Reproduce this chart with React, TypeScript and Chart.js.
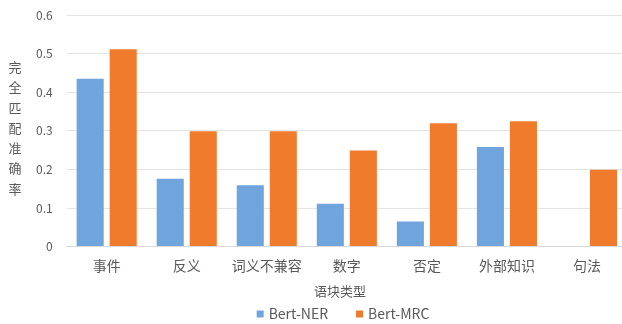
import React, { useEffect, useRef } from "react";
import { Chart, registerables } from "chart.js";

Chart.register(...registerables);

const categories = ["事件", "反义", "词义不兼容", "数字", "否定", "外部知识", "句法"];
const seriesNames = ["Bert-NER", "Bert-MRC"];
const bertNer = [0.435, 0.176, 0.159, 0.111, 0.065, 0.258, 0];
const bertMrc = [0.512, 0.299, 0.299, 0.249, 0.32, 0.325, 0.199];
const yTicks = [0, 0.1, 0.2, 0.3, 0.4, 0.5, 0.6];
const yTitle = "完全匹配准确率";
const xTitle = "语块类型";

const FONT = "'Noto Sans CJK SC', 'Noto Sans', sans-serif";
const TEXT = "#595959";
const COLORS = ["#6fa5dc", "#f07b2c"];
const FOOTER_CENTER = 340;

// Stacked, upright y-axis title on the left edge
const verticalTitle = {
  id: "verticalTitle",
  afterDraw(chart: Chart) {
    const { ctx, chartArea } = chart;
    const chars = Array.from(yTitle);
    const step = 20.3;
    const mid = (chartArea.top + chartArea.bottom) / 2 - 3;
    const start = mid - ((chars.length - 1) * step) / 2;
    ctx.save();
    ctx.fillStyle = TEXT;
    ctx.font = `13px ${FONT}`;
    ctx.textAlign = "center";
    ctx.textBaseline = "middle";
    chars.forEach((c, i) => ctx.fillText(c, 15, start + i * step));
    ctx.restore();
  },
};

// x-axis title and legend row, centred on the visible page width
const footer = {
  id: "footer",
  afterDraw(chart: Chart) {
    const { ctx } = chart;
    ctx.save();
    ctx.fillStyle = TEXT;
    ctx.font = `13px ${FONT}`;
    ctx.textAlign = "center";
    ctx.textBaseline = "middle";
    ctx.fillText(xTitle, FOOTER_CENTER, chart.height - 33);

    const y = chart.height - 10;
    const box = 7;
    const gap = 5;
    const spacing = 28;
    ctx.font = `14px ${FONT}`;
    ctx.textAlign = "left";
    const widths = seriesNames.map((n) => box + gap + ctx.measureText(n).width);
    const total = widths.reduce((a, b) => a + b, 0) + spacing * (widths.length - 1);
    let x = 343 - total / 2;
    seriesNames.forEach((n, i) => {
      ctx.fillStyle = COLORS[i];
      ctx.fillRect(x, y - box / 2, box, box);
      ctx.fillStyle = TEXT;
      ctx.fillText(n, x + box + gap, y);
      x += widths[i] + spacing;
    });
    ctx.restore();
  },
};

export default function App() {
  const ref = useRef<HTMLCanvasElement>(null);

  useEffect(() => {
    if (!ref.current) return;
    const chart = new Chart(ref.current, {
      type: "bar",
      data: {
        labels: categories,
        datasets: [
          { label: seriesNames[0], data: bertNer, backgroundColor: COLORS[0] },
          { label: seriesNames[1], data: bertMrc, backgroundColor: COLORS[1] },
        ],
      },
      options: {
        responsive: false,
        animation: false,
        devicePixelRatio: 1,
        layout: { padding: { left: 22, right: 13, top: 0, bottom: 27 } },
        datasets: { bar: { categoryPercentage: 0.825, barPercentage: 0.82 } },
        plugins: {
          legend: { display: false },
          tooltip: { enabled: false },
        },
        scales: {
          x: {
            grid: { display: false },
            border: { color: "#d9d9d9" },
            ticks: { color: TEXT, font: { family: FONT, size: 14 }, padding: 3 },
            title: {
              // space is reserved here; the text itself is drawn by the footer plugin
              display: true,
              text: xTitle,
              color: "rgba(0,0,0,0)",
              font: { family: FONT, size: 13 },
              padding: { top: 4, bottom: 0 },
            },
          },
          y: {
            min: 0,
            max: 0.6,
            afterBuildTicks: (axis: any) => {
              axis.ticks = yTicks.map((v) => ({ value: v }));
            },
            grid: { color: "#e3e3e3", drawTicks: false },
            border: { display: false },
            ticks: {
              color: TEXT,
              font: { family: FONT, size: 12 },
              padding: 14,
              callback: (v: any) => String(Number(v)),
            },
          },
        },
      },
      plugins: [verticalTitle, footer],
    });
    return () => chart.destroy();
  }, []);

  return (
    <div
      style={{
        position: "fixed",
        left: 0,
        top: 0,
        width: 622,
        height: 324,
        overflow: "hidden",
        background: "#fff",
      }}
    >
      <canvas ref={ref} width={640} height={330} style={{ display: "block", marginTop: -6 }} />
    </div>
  );
}
